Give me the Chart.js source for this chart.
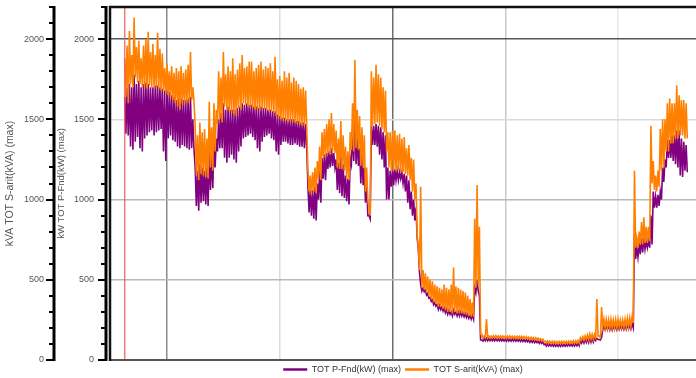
<!DOCTYPE html>
<html>
<head>
<meta charset="utf-8">
<title>TOT P-Fnd / S-arit</title>
<script src="https://cdn.jsdelivr.net/npm/chart.js@4.4.1/dist/chart.umd.min.js"></script>
<style>
  html, body { margin: 0; padding: 0; background: #fff; }
  #wrap { width: 696px; height: 378px; }
</style>
</head>
<body>
<div id="wrap"><canvas id="chart"></canvas></div>
<script>
// quarter-hour maxima, first sample at hour 15
const startHour = 15;
const stepHours = 0.25;

// TOT P-Fnd(kW) (max)
const kw = [
  1640, 1410, 1700, 1400, 1720, 1330, 1700, 1310, 1780, 1360, 1720, 1390, 1740, 1320, 1700, 1300, 1720, 1380, 1730, 1400,
  1720, 1420, 1700, 1430, 1700, 1400, 1710, 1420, 1710, 1430, 1700, 1440, 1690, 1300, 1680, 1240, 1680, 1380, 1670, 1400,
  1650, 1370, 1640, 1360, 1620, 1330, 1630, 1320, 1630, 1340, 1620, 1330, 1620, 1320, 1630, 1310, 1640, 1320, 1500, 1310,
  1200, 960, 1180, 930, 1220, 980, 1200, 990, 1180, 970, 1200, 960, 1300, 1060, 1280, 1070, 1350, 1200, 1380, 1300,
  1500, 1320, 1540, 1320, 1600, 1260, 1560, 1230, 1580, 1260, 1560, 1280, 1560, 1250, 1560, 1230, 1570, 1300, 1580, 1330,
  1600, 1380, 1590, 1390, 1600, 1400, 1590, 1410, 1590, 1390, 1580, 1370, 1580, 1320, 1570, 1300, 1580, 1360, 1570, 1390,
  1570, 1400, 1560, 1410, 1560, 1380, 1550, 1370, 1550, 1300, 1530, 1280, 1520, 1340, 1510, 1360, 1510, 1360, 1500, 1350,
  1500, 1340, 1500, 1340, 1500, 1350, 1490, 1340, 1490, 1330, 1480, 1330, 1480, 1320, 1470, 1320, 1080, 920, 1060, 900,
  1060, 880, 1080, 870, 1100, 1000, 1180, 980, 1260, 1130, 1280, 1120, 1290, 1190, 1300, 1200, 1320, 1210, 1290, 1200,
  1250, 1060, 1230, 1040, 1270, 1020, 1220, 1010, 1150, 990, 1130, 970, 1260, 1220, 1420, 1240, 1500, 1220, 1380, 1210,
  1320, 1100, 1280, 1090, 1200, 980, 1100, 900, 900, 880, 1460, 1340, 1460, 1340, 1470, 1330, 1460, 1280, 1450, 1250,
  1420, 1200, 1400, 1000, 1200, 1000, 1180, 1080, 1180, 1090, 1190, 1120, 1180, 1120, 1170, 1130, 1170, 1100, 1160, 1050,
  1150, 980, 1120, 940, 1050, 900, 1000, 870, 950, 760, 690, 545, 470, 430, 450, 425, 435, 405, 415, 385,
  390, 365, 375, 345, 360, 335, 345, 315, 340, 315, 330, 305, 325, 295, 315, 285, 310, 285, 300, 275,
  310, 285, 300, 275, 300, 275, 300, 275, 295, 270, 290, 265, 285, 260, 280, 255, 280, 255, 450, 420,
  500, 430, 400, 125, 125, 118, 135, 120, 135, 120, 133, 120, 132, 120, 133, 120, 133, 120, 132, 119,
  132, 119, 131, 119, 130, 118, 131, 118, 131, 118, 130, 118, 130, 117, 130, 117, 129, 116, 129, 116,
  128, 114, 126, 114, 125, 110, 124, 110, 122, 108, 120, 108, 118, 104, 116, 104, 112, 96, 100, 87,
  100, 87, 99, 87, 98, 86, 98, 86, 97, 85, 98, 85, 99, 86, 98, 86, 98, 87, 99, 87,
  100, 87, 101, 87, 102, 89, 104, 89, 120, 106, 126, 106, 130, 110, 136, 110, 140, 112, 140, 112,
  138, 122, 135, 128, 128, 125, 140, 190, 210, 190, 212, 190, 215, 188, 214, 188, 214, 190, 215, 190,
  216, 192, 215, 192, 215, 192, 218, 192, 220, 195, 222, 195, 225, 200, 780, 630, 700, 640, 720, 660,
  760, 670, 760, 690, 740, 700, 750, 700, 900, 720, 1050, 950, 1020, 950, 1030, 960, 1050, 1000, 1200, 1110,
  1250, 1200, 1370, 1260, 1370, 1260, 1400, 1240, 1400, 1220, 1430, 1200, 1430, 1150, 1380, 1140, 1360, 1180, 1340, 1170
];

// TOT S-arit(kVA) (max)
const kva = [
  1880, 1640, 1960, 1600, 2050, 1720, 1900, 1700, 2135, 1760, 1950, 1730, 1990, 1720, 1880, 1700, 1960, 1700, 2000, 1690,
  2045, 1710, 1920, 1700, 1970, 1700, 1900, 1690, 2040, 1690, 1940, 1680, 1910, 1680, 1820, 1660, 1850, 1650, 1800, 1630,
  1830, 1620, 1790, 1600, 1820, 1580, 1800, 1560, 1830, 1600, 1790, 1590, 1810, 1610, 1840, 1600, 1920, 1620, 1700, 1610,
  1460, 1150, 1400, 1120, 1480, 1160, 1420, 1150, 1440, 1140, 1380, 1130, 1610, 1200, 1450, 1180, 1600, 1300, 1560, 1470,
  1800, 1500, 1760, 1480, 1920, 1580, 1780, 1560, 1830, 1550, 1800, 1540, 1880, 1530, 1780, 1520, 1810, 1570, 1850, 1560,
  1900, 1600, 1820, 1590, 1830, 1580, 1860, 1570, 1860, 1570, 1800, 1560, 1820, 1560, 1840, 1550, 1860, 1570, 1810, 1560,
  1830, 1560, 1820, 1550, 1850, 1550, 1800, 1540, 1890, 1520, 1750, 1500, 1770, 1500, 1740, 1490, 1800, 1490, 1760, 1480,
  1790, 1490, 1730, 1480, 1760, 1480, 1740, 1470, 1720, 1470, 1690, 1460, 1700, 1460, 1680, 1450, 1180, 1050, 1150, 1030,
  1170, 1050, 1200, 1040, 1240, 1130, 1330, 1120, 1420, 1270, 1440, 1260, 1470, 1290, 1500, 1280, 1540, 1300, 1470, 1290,
  1430, 1200, 1380, 1190, 1490, 1190, 1400, 1180, 1330, 1130, 1300, 1120, 1420, 1310, 1600, 1300, 1870, 1320, 1560, 1310,
  1520, 1210, 1450, 1200, 1400, 1050, 1200, 1000, 940, 900, 1800, 1460, 1760, 1470, 1840, 1480, 1780, 1460, 1760, 1440,
  1700, 1420, 1680, 1300, 1420, 1200, 1420, 1180, 1430, 1180, 1430, 1180, 1400, 1180, 1410, 1170, 1380, 1170, 1390, 1160,
  1320, 1150, 1340, 1120, 1260, 1050, 1250, 1000, 1100, 780, 700, 560, 1080, 450, 560, 440, 540, 420, 520, 400,
  500, 380, 490, 360, 470, 350, 460, 330, 450, 330, 440, 320, 470, 310, 450, 300, 440, 300, 470, 290,
  577, 300, 460, 290, 450, 290, 440, 290, 430, 285, 420, 280, 400, 275, 380, 270, 360, 270, 880, 450,
  1090, 470, 830, 160, 160, 135, 150, 140, 255, 140, 150, 138, 150, 138, 151, 138, 152, 138, 150, 137,
  150, 137, 149, 137, 148, 136, 149, 136, 150, 136, 148, 136, 148, 135, 148, 135, 147, 134, 147, 134,
  146, 132, 144, 132, 142, 128, 141, 128, 140, 126, 138, 126, 136, 122, 133, 122, 130, 114, 118, 104,
  118, 104, 117, 104, 116, 103, 116, 103, 115, 102, 116, 102, 117, 103, 116, 103, 116, 104, 117, 104,
  118, 104, 119, 104, 120, 106, 122, 106, 138, 124, 145, 124, 150, 128, 155, 128, 162, 130, 160, 130,
  160, 140, 380, 150, 150, 140, 330, 210, 255, 200, 252, 200, 250, 200, 254, 200, 250, 202, 252, 202,
  255, 205, 250, 205, 250, 205, 255, 205, 260, 210, 262, 210, 270, 230, 1180, 700, 760, 700, 800, 720,
  860, 720, 890, 730, 830, 730, 830, 740, 1460, 1100, 1240, 1060, 1150, 1050, 1180, 1080, 1440, 1180, 1500, 1200,
  1500, 1300, 1600, 1300, 1630, 1350, 1600, 1350, 1600, 1380, 1712, 1380, 1650, 1400, 1620, 1400, 1620, 1380, 1600, 1380
];

const yMax = 2200;
const yTicks = [0, 500, 1000, 1500, 2000];
const minorStep = 100;
const dayLines = [24, 48, 72, 96, 120];
const cursorHour = 15;

// grid shades differ per line in the original viewer
const xGrid = { 24: '#8a8a8a', 48: '#dcdcdc', 72: '#6e6e6e', 96: '#c8c8c8', 120: '#e8e8e8' };
const yGrid = { 500: '#b9b9b9', 1000: '#b9b9b9', 1500: '#dadada', 2000: '#555555' };

const toPoints = vals => vals.map((v, i) => ({ x: startHour + i * stepHours, y: v }));

Chart.defaults.font.family = "'Liberation Sans', Arial, sans-serif";

// frame, cursor and the two thick left spines with major/minor ticks
const framePlugin = {
  id: 'frame',
  afterDraw(chart) {
    const { ctx, chartArea: a, scales } = chart;
    ctx.save();

    const cx = scales.x.getPixelForValue(cursorHour);
    ctx.strokeStyle = 'rgba(240, 90, 90, 0.8)';
    ctx.lineWidth = 1.5;
    ctx.beginPath();
    ctx.moveTo(cx, a.top);
    ctx.lineTo(cx, a.bottom);
    ctx.stroke();

    ctx.strokeStyle = '#555';
    ctx.lineWidth = 2;
    ctx.beginPath();
    ctx.moveTo(a.left, a.bottom);
    ctx.lineTo(a.right, a.bottom);
    ctx.stroke();

    ctx.strokeStyle = '#111';
    ctx.lineWidth = 2.5;
    ctx.beginPath();
    ctx.moveTo(a.left, a.bottom + 1);
    ctx.lineTo(a.left, a.top);
    ctx.lineTo(a.right, a.top);
    ctx.stroke();

    [[scales.y2, 8], [scales.y, 4]].forEach(([s, inset]) => {
      const x = s.right - inset;
      ctx.strokeStyle = '#000';
      ctx.lineWidth = 3;
      ctx.beginPath();
      ctx.moveTo(x, s.getPixelForValue(0) + 1);
      ctx.lineTo(x, s.getPixelForValue(yMax) - 1);
      ctx.stroke();
      ctx.lineWidth = 2;
      for (let v = 0; v <= yMax; v += minorStep) {
        const y = Math.round(s.getPixelForValue(v));
        const len = v % 500 === 0 ? 8 : 5;
        ctx.beginPath();
        ctx.moveTo(x - len, y);
        ctx.lineTo(x, y);
        ctx.stroke();
      }
    });
    ctx.restore();
  }
};

new Chart(document.getElementById('chart'), {
  type: 'line',
  data: {
    datasets: [
      {
        label: 'TOT P-Fnd(kW) (max)',
        data: toPoints(kw),
        yAxisID: 'y',
        borderColor: '#800080',
        backgroundColor: '#800080',
        borderWidth: 1.6,
        pointRadius: 0,
        tension: 0,
        order: 2
      },
      {
        label: 'TOT S-arit(kVA) (max)',
        data: toPoints(kva),
        yAxisID: 'y2',
        borderColor: '#ff8000',
        backgroundColor: '#ff8000',
        borderWidth: 1.6,
        pointRadius: 0,
        tension: 0,
        order: 1
      }
    ]
  },
  options: {
    animation: false,
    responsive: true,
    maintainAspectRatio: false,
    layout: { padding: { top: 7, right: 0, left: 0, bottom: -6 } },
    scales: {
      x: {
        type: 'linear',
        min: 11.87,
        max: 136.6,
        afterBuildTicks: s => { s.ticks = dayLines.map(v => ({ value: v })); },
        afterFit: s => { s.height = 1; },
        ticks: { display: false },
        grid: { color: c => xGrid[c.tick.value] || 'rgba(0,0,0,0)', lineWidth: 1.5, drawTicks: false },
        border: { display: false }
      },
      y: {
        position: 'left',
        weight: 0,
        min: 0,
        max: yMax,
        afterBuildTicks: s => { s.ticks = yTicks.map(v => ({ value: v })); },
        afterFit: s => { s.width = 48; },
        ticks: { padding: 0, color: '#555', font: { size: 9 }, callback: v => String(v) },
        grid: {
          color: c => yGrid[c.tick.value] || 'rgba(0,0,0,0)',
          lineWidth: 1.5,
          drawTicks: true,
          tickLength: 16,
          tickColor: 'rgba(0,0,0,0)'
        },
        border: { display: false },
        title: {
          display: true,
          text: 'kW TOT P-Fnd(kW) (max)',
          color: '#555',
          font: { size: 9.5 },
          padding: { top: -6, bottom: 0 }
        }
      },
      y2: {
        position: 'left',
        weight: 1,
        min: 0,
        max: yMax,
        afterBuildTicks: s => { s.ticks = yTicks.map(v => ({ value: v })); },
        afterFit: s => { s.width = 62; },
        ticks: { padding: 0, color: '#555', font: { size: 9 }, callback: v => String(v) },
        grid: { drawOnChartArea: false, drawTicks: true, tickLength: 18, tickColor: 'rgba(0,0,0,0)' },
        border: { display: false },
        title: {
          display: true,
          text: 'kVA TOT S-arit(kVA) (max)',
          color: '#555',
          font: { size: 10.5 },
          padding: { top: 4, bottom: 0 }
        }
      }
    },
    plugins: {
      tooltip: { enabled: false },
      legend: {
        position: 'bottom',
        fullSize: false,
        labels: {
          usePointStyle: true,
          pointStyle: 'line',
          pointStyleWidth: 24,
          padding: 4,
          color: '#333',
          font: { size: 9 },
          sort: (a, b) => a.datasetIndex - b.datasetIndex,
          generateLabels: c => Chart.defaults.plugins.legend.labels.generateLabels(c)
            .map(l => ({ ...l, lineWidth: 2.5 }))
        }
      }
    }
  },
  plugins: [framePlugin]
});
</script>
</body>
</html>
